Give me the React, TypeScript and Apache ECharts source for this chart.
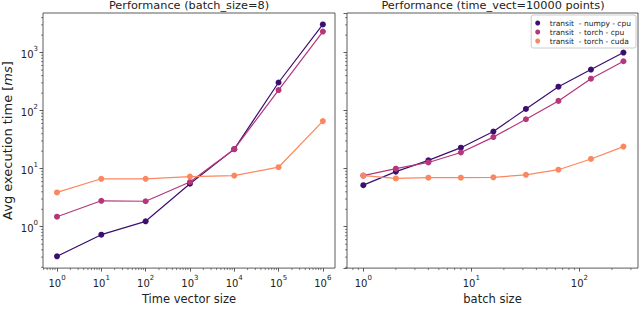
import React, { useEffect, useRef } from "react";
import * as echarts from "echarts";

const timeVectorSizes = [1, 10, 100, 1000, 10000, 100000, 1000000];
const batchSizes = [1, 2, 4, 8, 16, 32, 64, 128, 256];

const leftNumpyCpu = [0.31, 0.73, 1.24, 5.5, 21.7, 305, 3050];
const leftTorchCpu = [1.49, 2.8, 2.75, 5.9, 21.7, 226, 2300];
const leftTorchCuda = [3.9, 6.7, 6.7, 7.3, 7.6, 10.6, 66];

const rightNumpyCpu = [5.2, 8.9, 13.9, 23, 43.6, 107, 258, 510, 1000];
const rightTorchCpu = [7.6, 10, 12.8, 19, 35, 71, 147, 355, 708];
const rightTorchCuda = [7.6, 6.8, 7.0, 7.0, 7.1, 7.85, 9.6, 14.7, 24];

const seriesNames = ["transit  - numpy - cpu", "transit  - torch - cpu", "transit  - torch - cuda"];
const seriesColors = ["#3b0f70", "#b5367a", "#fb8761"];

const titles = ["Performance (batch_size=8)", "Performance (time_vect=10000 points)"];
const xNames = ["Time vector size", "batch size"];

const Y_MIN = 0.194;
const Y_MAX = 4800;
const XL_MIN = 0.483;
const XL_MAX = 1.88e6;
const XR_MIN = 0.706;
const XR_MAX = 349;

const FONT = "DejaVu Sans";

function minorValues(min: number, max: number): number[] {
  const out: number[] = [];
  for (let e = -2; e <= 7; e++) {
    for (let s = 2; s <= 9; s++) {
      const v = s * Math.pow(10, e);
      if (v >= min && v <= max) out.push(v);
    }
  }
  return out;
}

const fmt = (v: number) => {
  const l = Math.log10(v);
  const r = Math.round(l);
  if (Math.abs(l - r) < 1e-6) return `{b|10}{sup|${r}}`;
  return "";
};

const richLabel = {
  b: { fontSize: 10, fontFamily: FONT, color: "#222", verticalAlign: "bottom", lineHeight: 14 },
  sup: { fontSize: 7, fontFamily: FONT, color: "#222", verticalAlign: "top", lineHeight: 7 },
};

export default function App() {
  const ref = useRef<HTMLDivElement>(null);
  useEffect(() => {
    if (!ref.current) return;
    const chart = echarts.init(ref.current, undefined, { renderer: "svg" });

    const axisCommon = {
      type: "log" as const,
      logBase: 10,
      axisLine: { show: false },
      axisTick: { show: true, inside: false, length: 3.5, lineStyle: { color: "#333", width: 0.8 } },
      splitLine: { show: false },
      axisLabel: { formatter: fmt, rich: richLabel, margin: 6, showMinLabel: false, showMaxLabel: false },
    };

    const xMinorTicks = (axisIdx: number, min: number, max: number) => ({
      type: "custom",
      xAxisIndex: axisIdx,
      yAxisIndex: axisIdx,
      silent: true,
      clip: false,
      data: minorValues(min, max).map((v) => [v, Y_MIN]),
      renderItem: (params: any, api: any) => {
        const p = api.coord([api.value(0), Y_MIN]);
        return {
          type: "line",
          shape: { x1: p[0], y1: p[1], x2: p[0], y2: p[1] + 2 },
          style: { stroke: "#333", lineWidth: 0.6 },
        };
      },
      z: 1,
    });

    const yMinorTicks = (axisIdx: number, xmin: number) => ({
      type: "custom",
      xAxisIndex: axisIdx,
      yAxisIndex: axisIdx,
      silent: true,
      clip: false,
      data: minorValues(Y_MIN, Y_MAX).map((v) => [xmin, v]),
      renderItem: (params: any, api: any) => {
        const p = api.coord([xmin, api.value(1)]);
        return {
          type: "line",
          shape: { x1: p[0], y1: p[1], x2: p[0] - 2, y2: p[1] },
          style: { stroke: "#333", lineWidth: 0.6 },
        };
      },
      z: 1,
    });

    const lineSeries = (name: string, color: string, xs: number[], ys: number[], idx: number) => ({
      type: "line",
      name,
      xAxisIndex: idx,
      yAxisIndex: idx,
      data: xs.map((x, i) => [x, ys[i]]),
      symbol: "circle",
      symbolSize: 6,
      showSymbol: true,
      itemStyle: { color },
      lineStyle: { color, width: 1.2 },
      z: 3,
    });

    chart.setOption({
      animation: false,
      textStyle: { fontFamily: FONT },
      grid: [
        { left: 43, right: 305, top: 13, bottom: 32, show: true, borderColor: "#333", borderWidth: 0.8, backgroundColor: "transparent" },
        { left: 347, right: 2, top: 13, bottom: 32, show: true, borderColor: "#333", borderWidth: 0.8, backgroundColor: "transparent" },
      ],
      xAxis: [
        {
          ...axisCommon,
          gridIndex: 0,
          min: XL_MIN,
          max: XL_MAX,
          splitNumber: 7,
          name: xNames[0],
          nameLocation: "middle",
          nameGap: 20,
          nameTextStyle: { fontSize: 11.5, fontFamily: FONT, color: "#222" },
        },
        {
          ...axisCommon,
          gridIndex: 1,
          min: XR_MIN,
          max: XR_MAX,
          splitNumber: 3,
          name: xNames[1],
          nameLocation: "middle",
          nameGap: 20,
          nameTextStyle: { fontSize: 11.5, fontFamily: FONT, color: "#222" },
        },
      ],
      yAxis: [
        {
          ...axisCommon,
          gridIndex: 0,
          min: Y_MIN,
          max: Y_MAX,
          splitNumber: 5,
          axisLabel: { ...axisCommon.axisLabel, margin: 5 },
          name: "Avg execution time [{i|ms}]",
          nameLocation: "middle",
          nameGap: 29,
          nameTextStyle: {
            fontSize: 13,
            fontFamily: FONT,
            color: "#222",
            rich: { i: { fontSize: 13, fontFamily: FONT, fontStyle: "italic", color: "#222" } },
          },
        },
        {
          ...axisCommon,
          gridIndex: 1,
          min: Y_MIN,
          max: Y_MAX,
          splitNumber: 5,
          axisLabel: { show: false },
        },
      ],
      legend: {
        orient: "vertical",
        right: 4,
        top: 15,
        data: seriesNames,
        icon: "circle",
        itemWidth: 14,
        itemHeight: 5,
        itemGap: 1,
        padding: [4, 5, 3, 4],
        borderColor: "#ccc",
        borderWidth: 1,
        borderRadius: 2,
        backgroundColor: "rgba(255,255,255,0.85)",
        textStyle: { fontSize: 7.5, fontFamily: FONT, color: "#222" },
        selectedMode: false,
        z: 10,
      },
      graphic: [
        { type: "text", x: 189, y: 5, style: { text: titles[0], textAlign: "center", textVerticalAlign: "middle", fontSize: 11.3, fontFamily: FONT, fill: "#222" } },
        { type: "text", x: 493, y: 5, style: { text: titles[1], textAlign: "center", textVerticalAlign: "middle", fontSize: 11.3, fontFamily: FONT, fill: "#222" } },
      ],
      series: [
        lineSeries(seriesNames[0], seriesColors[0], timeVectorSizes, leftNumpyCpu, 0),
        lineSeries(seriesNames[1], seriesColors[1], timeVectorSizes, leftTorchCpu, 0),
        lineSeries(seriesNames[2], seriesColors[2], timeVectorSizes, leftTorchCuda, 0),
        lineSeries(seriesNames[0], seriesColors[0], batchSizes, rightNumpyCpu, 1),
        lineSeries(seriesNames[1], seriesColors[1], batchSizes, rightTorchCpu, 1),
        lineSeries(seriesNames[2], seriesColors[2], batchSizes, rightTorchCuda, 1),
        xMinorTicks(0, XL_MIN, XL_MAX),
        xMinorTicks(1, XR_MIN, XR_MAX),
        yMinorTicks(0, XL_MIN),
        yMinorTicks(1, XR_MIN),
      ],
    });
    return () => chart.dispose();
  }, []);
  return <div ref={ref} style={{ width: 640, height: 310, position: "fixed", left: 0, top: 0, background: "#fff" }} />;
}
